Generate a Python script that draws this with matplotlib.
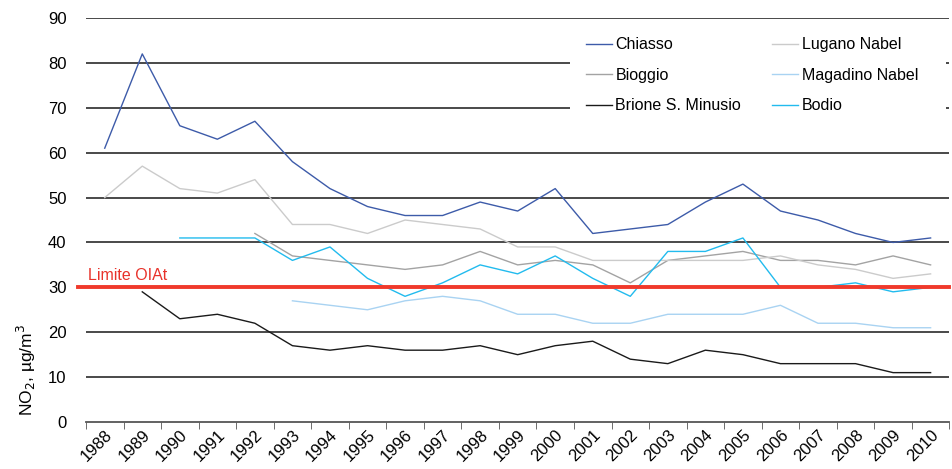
import numpy as np
import matplotlib.pyplot as plt
from matplotlib.patches import Rectangle

plt.rcParams['font.family'] = ['Liberation Sans', 'DejaVu Sans']

years = [str(y) for y in range(1988, 2011)]

chiasso = [61, 82, 66, 63, 67, 58, 52, 48, 46, 46, 49, 47, 52, 42, 43, 44, 49, 53, 47, 45, 42, 40, 41]
lugano = [50, 57, 52, 51, 54, 44, 44, 42, 45, 44, 43, 39, 39, 36, 36, 36, 36, 36, 37, 35, 34, 32, 33]
bioggio = [None] * 4 + [42, 37, 36, 35, 34, 35, 38, 35, 36, 35, 31, 36, 37, 38, 36, 36, 35, 37, 35]
magadino = [None] * 5 + [27, 26, 25, 27, 28, 27, 24, 24, 22, 22, 24, 24, 24, 26, 22, 22, 21, 21]
brione = [None] + [29, 23, 24, 22, 17, 16, 17, 16, 16, 17, 15, 17, 18, 14, 13, 16, 15, 13, 13, 13, 11, 11]
bodio = [None] * 2 + [41, 41, 41, 36, 39, 32, 28, 31, 35, 33, 37, 32, 28, 38, 38, 41, 30, 30, 31, 29, 30]

limit = 30

# legend goes column by column, so order is col 1 then col 2
series = [
    ('Chiasso', chiasso, '#3d5ba9'),
    ('Bioggio', bioggio, '#a3a3a3'),
    ('Brione S. Minusio', brione, '#1a1a1a'),
    ('Lugano Nabel', lugano, '#cbcbcb'),
    ('Magadino Nabel', magadino, '#a9d3f2'),
    ('Bodio', bodio, '#22bbee'),
]

fig = plt.figure(figsize=(9.53, 4.69), dpi=100)
ax = fig.add_axes([0.0902, 0.1002, 0.906, 0.8614])

x = np.arange(len(years))
for yv in range(10, 91, 10):
    ax.axhline(yv, color='#3a3a3a', lw=1.3, zorder=1)

# white block behind the legend hides the grid there
ax.add_patch(Rectangle((0.561, 0.735), 0.4355, 0.235, transform=ax.transAxes,
                       facecolor='white', edgecolor='none', zorder=2))

for name, vals, col in series:
    v = np.array([np.nan if a is None else a for a in vals], dtype=float)
    ax.plot(x, v, color=col, lw=1.0, label=name, zorder=3)

ax.plot([-0.7, len(years) - 0.5], [limit, limit], color='#f0392b', lw=2.8,
        clip_on=False, zorder=4)
ax.text(-0.45, limit + 1.0, 'Limite OIAt', color='#e8322a', fontsize=11.5,
        va='bottom', ha='left')

ax.set_xlim(-0.5, len(years) - 0.5)
ax.set_ylim(0, 90)
ax.set_yticks(range(0, 91, 10))
ax.set_xticks(x)
ax.set_xticklabels(years, rotation=45, ha='right', rotation_mode='anchor', fontsize=12)
ax.set_xticks(np.arange(len(years) + 1) - 0.5, minor=True)
ax.tick_params(axis='x', which='major', length=0, pad=4)
ax.tick_params(axis='x', which='minor', length=5, color='#555555', direction='out')
ax.tick_params(axis='y', length=0, labelsize=12, pad=14)

for s in ['left', 'right', 'top']:
    ax.spines[s].set_visible(False)
ax.spines['bottom'].set_color('#555555')
ax.spines['bottom'].set_linewidth(1.3)

ax.set_ylabel('NO$_2$, µg/m$^3$', fontsize=12.5)
ax.yaxis.set_label_coords(-0.055, 0.13)

ax.legend(loc='upper left', bbox_to_anchor=(0.5794, 0.952), ncol=2, frameon=False,
          fontsize=11.5, handlelength=1.63, handletextpad=0.2, borderpad=0,
          borderaxespad=0, columnspacing=1.95, labelspacing=0.97)

fig.savefig('out.png', dpi=100)
